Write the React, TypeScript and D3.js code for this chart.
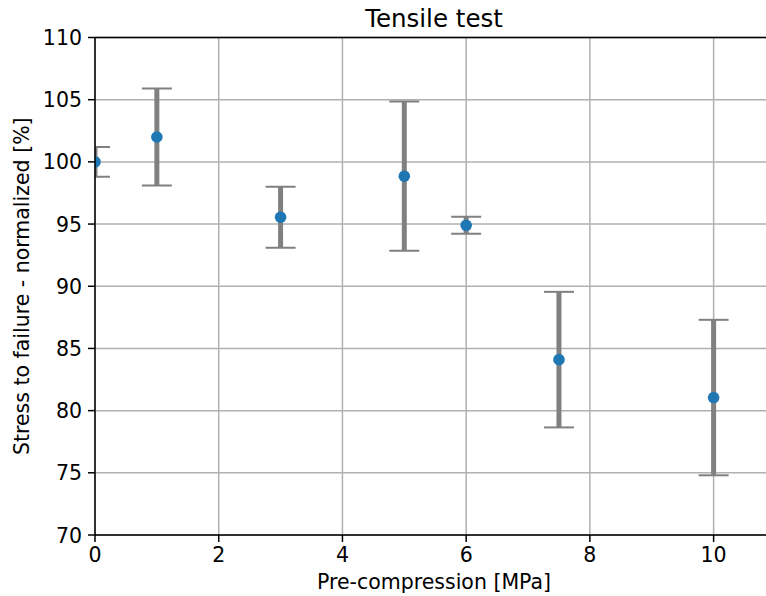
import React from "react";
import * as d3 from "d3";

const pressures = [0, 1, 3, 5, 6, 7.5, 10];
const stressMeans = [100.0, 102.0, 95.55, 98.85, 94.9, 84.1, 81.05];
const stressErrors = [1.2, 3.9, 2.45, 6.0, 0.68, 5.45, 6.25];
const xTicks = [0, 2, 4, 6, 8, 10];
const yTicks = [70, 75, 80, 85, 90, 95, 100, 105, 110];

const W = 766;
const H = 596;
const left = 95;
const right = 773;
const top = 37.5;
const bottom = 535;

export default function App() {
  const x = d3.scaleLinear().domain([0, 10.96]).range([left, right]);
  const y = d3.scaleLinear().domain([70, 110]).range([bottom, top]);
  const font = "DejaVu Sans, sans-serif";
  const data = pressures.map((p, i) => ({ p, m: stressMeans[i], e: stressErrors[i] }));
  const capHalf = 15;

  return (
    <svg width={W} height={H} style={{ position: "absolute", left: 0, top: 0 }} fontFamily={font}>
      <defs>
        <clipPath id="plotclip">
          <rect x={left} y={top} width={right - left} height={bottom - top} />
        </clipPath>
      </defs>
      <rect x={0} y={0} width={W} height={H} fill="#fff" />
      {/* grid */}
      <g stroke="#b0b0b0" strokeWidth={1.5}>
        {xTicks.map((t) => (
          <line key={"gx" + t} x1={x(t)} x2={x(t)} y1={top} y2={bottom} />
        ))}
        {yTicks.map((t) => (
          <line key={"gy" + t} x1={left} x2={right} y1={y(t)} y2={y(t)} />
        ))}
      </g>
      {/* error bars */}
      <g clipPath="url(#plotclip)">
        {data.map((d, i) => (
          <g key={"eb" + i} stroke="#808080">
            <line x1={x(d.p)} x2={x(d.p)} y1={y(d.m - d.e)} y2={y(d.m + d.e)} strokeWidth={5} />
            <line x1={x(d.p) - capHalf} x2={x(d.p) + capHalf} y1={y(d.m + d.e)} y2={y(d.m + d.e)} strokeWidth={2} />
            <line x1={x(d.p) - capHalf} x2={x(d.p) + capHalf} y1={y(d.m - d.e)} y2={y(d.m - d.e)} strokeWidth={2} />
          </g>
        ))}
        {data.map((d, i) => (
          <circle key={"pt" + i} cx={x(d.p)} cy={y(d.m)} r={5.8} fill="#1f77b4" />
        ))}
      </g>
      {/* spines */}
      <g stroke="#000" strokeWidth={1.5} fill="none">
        <line x1={left} x2={left} y1={top} y2={bottom} />
        <line x1={left} x2={right} y1={bottom} y2={bottom} />
        <line x1={left} x2={right} y1={top} y2={top} />
        <line x1={right} x2={right} y1={top} y2={bottom} />
      </g>
      {/* ticks */}
      <g stroke="#000" strokeWidth={1.5}>
        {xTicks.map((t) => (
          <line key={"tx" + t} x1={x(t)} x2={x(t)} y1={bottom} y2={bottom + 7} />
        ))}
        {yTicks.map((t) => (
          <line key={"ty" + t} x1={left - 7} x2={left} y1={y(t)} y2={y(t)} />
        ))}
      </g>
      <g fontSize={20.5} fill="#000">
        {xTicks.map((t) => (
          <text key={"lx" + t} x={x(t)} y={bottom + 27} textAnchor="middle">
            {t}
          </text>
        ))}
        {yTicks.map((t) => (
          <text key={"ly" + t} x={left - 13} y={y(t) + 7.5} textAnchor="end">
            {t}
          </text>
        ))}
      </g>
      <text x={(left + right) / 2} y={589} textAnchor="middle" fontSize={20.5} fill="#000">
        Pre-compression [MPa]
      </text>
      <text
        transform={`translate(${29},${(top + bottom) / 2}) rotate(-90)`}
        textAnchor="middle"
        fontSize={20.5}
        fill="#000"
      >
        Stress to failure - normalized [%]
      </text>
      <text x={(left + right) / 2} y={27} textAnchor="middle" fontSize={24.5} fill="#000">
        Tensile test
      </text>
    </svg>
  );
}
